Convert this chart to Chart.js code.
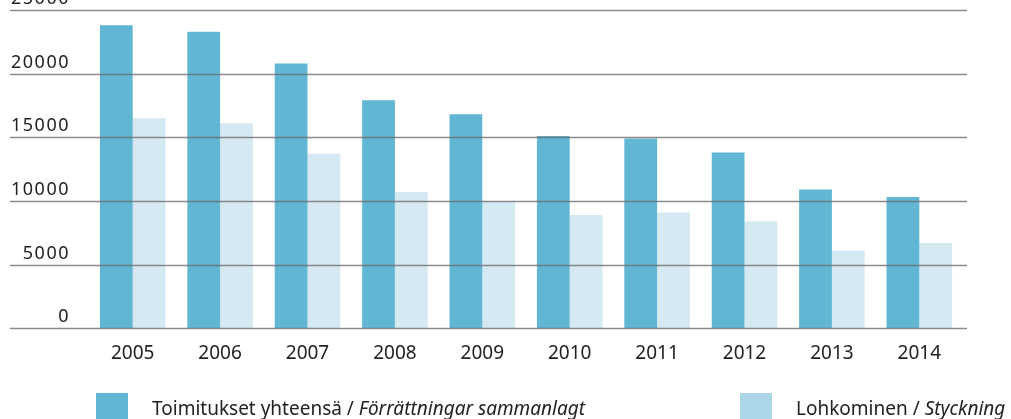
<!DOCTYPE html>
<html>
<head>
<meta charset="utf-8">
<script src="https://cdn.jsdelivr.net/npm/chart.js@4/dist/chart.umd.min.js"></script>
<style>
  html, body { margin: 0; padding: 0; background: #fff; }
  #wrap { position: relative; width: 1011px; height: 419px; overflow: hidden; }
  .key { position: absolute; top: 393px; font-family: "Noto Sans", sans-serif; font-size: 19px; color: #222; line-height: 30px; }
  .key span.box { position: absolute; left: 0; top: 0; width: 32px; height: 30px; }
  .key span.txt { position: absolute; left: 56px; top: 0; white-space: nowrap; }
</style>
</head>
<body>
<div id="wrap">
  <canvas id="chart" width="1011" height="419"></canvas>
  <div class="key" style="left:96px"><span class="box" style="background:#61b6d3"></span><span class="txt">Toimitukset yhteensä / <i>Förrättningar sammanlagt</i></span></div>
  <div class="key" style="left:740px"><span class="box" style="background:#acd7e8"></span><span class="txt">Lohkominen / <i>Styckning</i></span></div>
</div>
<script>
// Data
const years = ["2005", "2006", "2007", "2008", "2009", "2010", "2011", "2012", "2013", "2014"];
const totalValues = [23800, 23300, 20800, 17900, 16800, 15100, 14900, 13800, 10900, 10300];
const splitValues = [16500, 16100, 13700, 10700, 10000, 8900, 9100, 8400, 6100, 6700];
const yTicks = [0, 5000, 10000, 15000, 20000, 25000];

// Draw gridlines over bars and tick labels sitting above each line
const gridPlugin = {
  id: "gridOver",
  afterDatasetsDraw(chart) {
    const ctx = chart.ctx;
    const y = chart.scales.y;
    ctx.save();
    yTicks.forEach((v) => {
      const py = Math.round(y.getPixelForValue(v)) + 0.5;
      ctx.strokeStyle = "rgba(110,110,110,0.8)";
      ctx.lineWidth = 1.6;
      ctx.beginPath();
      ctx.moveTo(10, py);
      ctx.lineTo(967, py);
      ctx.stroke();
      ctx.fillStyle = "#222";
      ctx.font = "18px 'Noto Sans', sans-serif";
      ctx.letterSpacing = "1.5px";
      ctx.textAlign = "right";
      ctx.textBaseline = "alphabetic";
      ctx.fillText(String(v), 70, py - 7);
    });
    ctx.restore();
  }
};

new Chart(document.getElementById("chart"), {
  type: "bar",
  data: {
    labels: years,
    datasets: [
      { label: "Toimitukset yhteensä / Förrättningar sammanlagt", data: totalValues, backgroundColor: "#61b6d3" },
      { label: "Lohkominen / Styckning", data: splitValues, backgroundColor: "#d5e9f2" }
    ]
  },
  options: {
    responsive: false,
    animation: false,
    layout: { padding: { left: 89, right: 48, top: 10, bottom: 40 } },
    datasets: { bar: { categoryPercentage: 0.75, barPercentage: 1.0 } },
    plugins: { legend: { display: false }, tooltip: { enabled: false } },
    scales: {
      x: {
        grid: { display: false, drawTicks: false },
        border: { display: false },
        ticks: { color: "#222", padding: 14, font: { family: "Noto Sans", size: 19 } }
      },
      y: { display: false, min: 0, max: 25000 }
    }
  },
  plugins: [gridPlugin]
});
</script>
</body>
</html>
